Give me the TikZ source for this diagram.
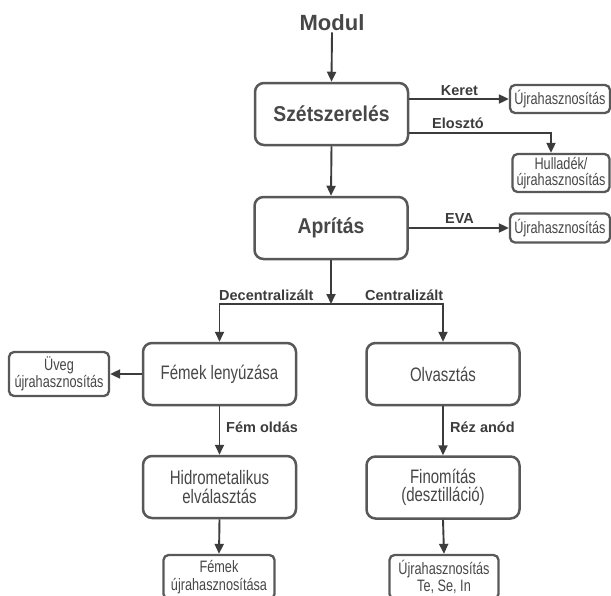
\documentclass[tikz,border=0pt]{standalone}
\usepackage{fontspec}
\setmainfont{Liberation Sans}
\newfontfamily\mainc[FakeStretch=0.9]{Liberation Sans}
\newfontfamily\regc[FakeStretch=0.77]{Liberation Sans}
\newfontfamily\smc[FakeStretch=0.77]{Liberation Sans}
\usetikzlibrary{arrows.meta}
\definecolor{ink}{HTML}{3C3C3C}
\definecolor{boxc}{HTML}{585858}
\definecolor{txt}{HTML}{474747}
\tikzset{
  bigbox/.style={draw=boxc, line width=2.5pt, rounded corners=9pt, fill=white,
    minimum width=153pt, minimum height=62pt, inner sep=0pt, align=center, text=txt},
  bigbold/.style={bigbox, font=\mainc\bfseries\fontsize{21.5}{24}\selectfont},
  bigreg/.style={bigbox, font=\regc\fontsize{19.5}{18.5}\selectfont},
  smbox/.style={draw=boxc, line width=2.3pt, rounded corners=5pt, fill=white,
    inner sep=0pt, align=center, text=txt, font=\smc\fontsize{16.5}{15.5}\selectfont},
  lab/.style={inner sep=0pt, text=ink, font=\bfseries\fontsize{14.5}{16}\selectfont},
  arr/.style={draw=ink, line width=1.9pt, -{Triangle[length=10pt,width=9pt]}}
}
\begin{document}
\begin{tikzpicture}[x=1pt,y=-1pt]
\useasboundingbox (0,0) rectangle (611,595);
\clip (0,0) rectangle (611,595);
\fill[white] (0,0) rectangle (611,595);

% title
\node[anchor=base, inner sep=2pt, text=txt, font=\bfseries\fontsize{22}{24}\selectfont] (modul) at (332,30) {Modul};

% main column
\node[bigbold] (szet) at (331.5,114) {Szétszerelés};
\node[bigbold] (apr) at (331,228) {Aprítás};

% side boxes
\node[smbox, minimum width=100pt, minimum height=28pt] (u1) at (560,99) {Újrahasznosítás};
\node[smbox, minimum width=97pt, minimum height=38pt] (hull) at (561,173) {Hulladék/\\újrahasznosítás};
\node[smbox, minimum width=100pt, minimum height=29pt] (u2) at (560,228) {Újrahasznosítás};

% left and right columns
\node[bigreg] (fem) at (219.5,374) {Fémek lenyúzása};
\node[bigreg] (olv) at (443,374) {Olvasztás};
\node[smbox, minimum width=100pt, minimum height=44pt] (uveg) at (59,374) {Üveg\\újrahasznosítás};
\node[bigreg] (hidro) at (219.5,487) {Hidrometalikus\\elválasztás};
\node[bigreg] (fin) at (443,487.5) {Finomítás\\(desztilláció)};
\node[smbox, minimum width=111pt, minimum height=44pt, font=\smc\fontsize{16.5}{17.5}\selectfont] (femu) at (219,577) {Fémek\\újrahasznosítása};
\node[smbox, minimum width=109pt, minimum height=44pt, font=\smc\fontsize{16.5}{17.5}\selectfont] (teu) at (444,577) {Újrahasznosítás\\Te, Se, In};

% connectors
\draw[arr] (modul.south) -- (szet.north);
\draw[arr] (szet.south) -- (apr.north);
\draw[arr] (u1.west -| szet.east) -- (u1.west);
\coordinate (elo) at (551,133);
\draw[arr] (elo -| szet.east) -- (elo) -- (elo |- hull.north);
\draw[arr] (apr.east) -- (u2.west);
\coordinate (split) at (331,304);
\draw[arr] (apr.south) -- (split);
\draw[arr] (split) -| (fem.north);
\draw[arr] (split) -| (olv.north);
\draw[arr] (fem.west) -- (uveg.east);
\draw[arr] (fem.south) -- (hidro.north);
\draw[arr] (olv.south) -- (fin.north);
\draw[arr] (hidro.south) -- (femu.north);
\draw[arr] (fin.south) -- (teu.north);

% labels
\node[lab, anchor=base] (lkeret) at (459.5,95) {Keret};
\node[lab, anchor=base] (lelo) at (458,128) {Elosztó};
\node[lab, anchor=base] (leva) at (459.5,223) {EVA};
\node[lab, anchor=base west] (ldec) at (219,300) {Decentralizált};
\node[lab, anchor=base east] (lcen) at (443.5,300) {Centralizált};
\node[lab, anchor=base west] (lfem) at (226,432) {Fém oldás};
\node[lab, anchor=base west] (lrez) at (450,432) {Réz anód};
\end{tikzpicture}
\end{document}
